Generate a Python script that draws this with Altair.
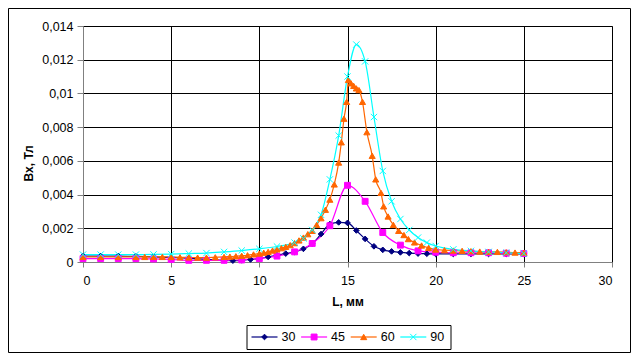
import altair as alt
import pandas as pd

series_names = ["30", "45", "60", "90"]
series_colors = ["#000080", "#FF00FF", "#FF6600", "#00FFFF"]
series_shapes = ["diamond", "square", "triangle-up", "M-1,-1L1,1M-1,1L1,-1"]
series_sizes = [32, 40, 48, 34]

x_ticks = [0, 5, 10, 15, 20, 25, 30]
y_ticks = [0, 0.002, 0.004, 0.006, 0.008, 0.01, 0.012, 0.014]

L_30 = [0, 1, 2, 3, 4, 5, 6, 7, 8,
        8.5, 9, 9.5, 10, 10.5, 11, 11.5, 12, 12.5, 13, 13.5, 14, 14.5, 15,
        15.5, 16, 16.5, 17, 17.5, 18, 18.5, 19, 19.5, 20,
        21, 22, 23, 24, 25]
B_30 = [0.00035, 0.00035, 0.00035, 0.00033, 0.0003, 0.00027, 0.00022, 0.00016, 0.0001,
        0.00008, 0.0001, 0.00015, 0.0002, 0.0003, 0.0004, 0.0005, 0.0006, 0.00078, 0.00108,
        0.00166, 0.00225, 0.00235, 0.00232, 0.00187, 0.00137, 0.00093, 0.00072, 0.00063,
        0.00057, 0.00053, 0.0005, 0.00049, 0.00048,
        0.00048, 0.00048, 0.00048, 0.00048, 0.00048]

L_45 = list(range(0, 26))
B_45 = [0.0002, 0.0002, 0.0002, 0.0002, 0.00018, 0.00015, 0.0001, 0.0001, 0.0001, 0.00012,
        0.0002, 0.00035, 0.0006, 0.0011, 0.00215, 0.00455, 0.0036, 0.00175, 0.001, 0.00066,
        0.00058, 0.00055, 0.00055, 0.00055, 0.00052, 0.0005]

L_60 = [0, 1, 2, 3, 3.5, 4, 4.5, 5, 5.5, 6, 6.5, 7, 7.5, 8, 8.33, 8.67, 9, 9.33, 9.67, 10,
        10.25, 10.5, 10.75, 11, 11.25, 11.5, 11.75, 12, 12.25, 12.5, 12.75, 13, 13.25, 13.5,
        13.75, 14, 14.25, 14.5, 14.65, 14.8, 14.95, 15.05, 15.2, 15.35, 15.5, 15.65, 15.85,
        16.1, 16.4, 16.6, 16.9, 17.05, 17.3, 17.6, 17.9, 18.2, 18.45, 18.8, 19.2, 19.6, 20,
        20.5, 21, 21.5, 22, 22.5, 23, 23.5, 24, 24.5, 25]
B_60 = [0.0003, 0.0003, 0.0003, 0.0003, 0.0003, 0.0003, 0.0003, 0.0003, 0.00028, 0.00027,
        0.00026, 0.00026, 0.00028, 0.0003, 0.00032, 0.00034, 0.00037, 0.0004, 0.00045, 0.0005,
        0.00055, 0.0006, 0.00068, 0.00075, 0.00082, 0.0009, 0.001, 0.00112, 0.00128, 0.00145,
        0.00165, 0.00185, 0.0022, 0.0026, 0.0031, 0.0037, 0.0046, 0.0059, 0.0071, 0.0085,
        0.0095, 0.0108, 0.0106, 0.01045, 0.0103, 0.0102, 0.0095, 0.0077, 0.0063, 0.0049,
        0.0041, 0.0033, 0.0027, 0.0022, 0.00185, 0.0016, 0.00136, 0.00116, 0.00098, 0.00084,
        0.00074, 0.0007, 0.00068, 0.00066, 0.00064, 0.00062, 0.0006, 0.0006, 0.00058, 0.00056,
        0.00055]

L_90 = [0, 1, 2, 3, 4, 5, 6, 7, 8, 9, 10, 11, 12, 12.5, 13, 13.5, 14, 14.5, 15, 15.5, 16,
        16.5, 17, 17.5, 18, 18.5, 19, 19.5, 20, 21, 22, 23, 24, 25]
B_90 = [0.00044, 0.00044, 0.00044, 0.00044, 0.00045, 0.00047, 0.0005, 0.00053, 0.0006,
        0.00068, 0.00078, 0.00092, 0.00115, 0.0014, 0.0019, 0.0028, 0.0049, 0.0075, 0.011,
        0.0129, 0.0119, 0.0086, 0.0054, 0.0036, 0.00255, 0.0019, 0.00145, 0.00115, 0.00095,
        0.00075, 0.00066, 0.0006, 0.00055, 0.0005]

rows = []
for name, Ls, Bs in [("30", L_30, B_30), ("45", L_45, B_45), ("60", L_60, B_60), ("90", L_90, B_90)]:
    for l, b in zip(Ls, Bs):
        rows.append({"L": l, "B": b, "series": name})
df = pd.DataFrame(rows)
legend_df = pd.DataFrame({"series": series_names})

FONT = "Liberation Sans"
color_scale = alt.Scale(domain=series_names, range=series_colors)
shape_scale = alt.Scale(domain=series_names, range=series_shapes)
size_scale = alt.Scale(domain=series_names, range=series_sizes)

x_enc = alt.X("L:Q", scale=alt.Scale(domain=[0, 30], nice=False),
              axis=alt.Axis(values=x_ticks, title="L, мм", titleY=39, titleBaseline="middle"))
y_enc = alt.Y("B:Q", scale=alt.Scale(domain=[0, 0.014], nice=False),
              axis=alt.Axis(values=y_ticks, title="Bx, Тл",
                            labelExpr="replace(toString(datum.value), '.', ',')",
                            titleX=-55, titleY=137, titleAlign="center",
                            titleBaseline="middle", tickSize=6, labelPadding=4))

lines = alt.Chart(df).mark_line(strokeWidth=1.2, interpolate="monotone").encode(
    x=x_enc, y=y_enc,
    color=alt.Color("series:N", scale=color_scale, legend=None),
)
points = alt.Chart(df).mark_point(filled=True, opacity=1, strokeWidth=1).encode(
    x=x_enc, y=y_enc,
    fill=alt.Fill("series:N", scale=color_scale, legend=None),
    stroke=alt.Stroke("series:N", scale=color_scale, legend=None),
    shape=alt.Shape("series:N", scale=shape_scale, legend=None),
    size=alt.Size("series:N", scale=size_scale, legend=None),
)
main = alt.layer(lines, points)

one = alt.Data(values=[{"a": 1}])
frame = alt.Chart(one).mark_rect(fill="transparent", stroke="black", strokeWidth=1).encode(
    x=alt.value(-74.5), x2=alt.value(547.5), y=alt.value(-17.5), y2=alt.value(326.5))
legend_box = alt.Chart(one).mark_rect(fill="white", stroke="black", strokeWidth=1).encode(
    x=alt.value(164), x2=alt.value(368), y=alt.value(299.5), y2=alt.value(323.5))

leg_x = alt.X("series:N",
              scale=alt.Scale(type="point", domain=series_names, range=[181.5, 330.3], padding=0),
              axis=None)
leg_y = alt.value(311)
leg_lines = alt.Chart(legend_df).mark_rule(strokeWidth=1.2, xOffset=-13, x2Offset=13).encode(
    x=leg_x, x2=alt.X2("series"), y=leg_y,
    color=alt.Color("series:N", scale=color_scale, legend=None))
leg_points = alt.Chart(legend_df).mark_point(filled=True, opacity=1, strokeWidth=1).encode(
    x=leg_x, y=leg_y,
    fill=alt.Fill("series:N", scale=color_scale, legend=None),
    stroke=alt.Stroke("series:N", scale=color_scale, legend=None),
    shape=alt.Shape("series:N", scale=shape_scale, legend=None),
    size=alt.Size("series:N", scale=size_scale, legend=None),
)
leg_text = alt.Chart(legend_df).mark_text(align="left", baseline="middle", dx=17,
                                          fontSize=12.5, font=FONT, color="black").encode(
    x=leg_x, y=leg_y, text="series:N")

chart = alt.layer(frame, main, legend_box, leg_lines, leg_points, leg_text).resolve_scale(
    x="independent"
).properties(
    width=529, height=236,
    autosize=alt.AutoSizeParams(type="none"),
    padding={"left": 75, "top": 18, "right": 19, "bottom": 91},
).configure_view(
    stroke="#808080", strokeWidth=1
).configure_axis(
    gridColor="black", gridWidth=1, grid=True,
    domainColor="#808080", tickColor="#808080",
    labelFont=FONT, labelFontSize=12.5, labelColor="black",
    titleFont=FONT, titleFontSize=12, titleFontWeight="bold", titleColor="black",
).configure_axisX(
    tickSize=5, labelPadding=7
)

chart.save("out.html", embed_options={"renderer": "svg", "actions": False})
